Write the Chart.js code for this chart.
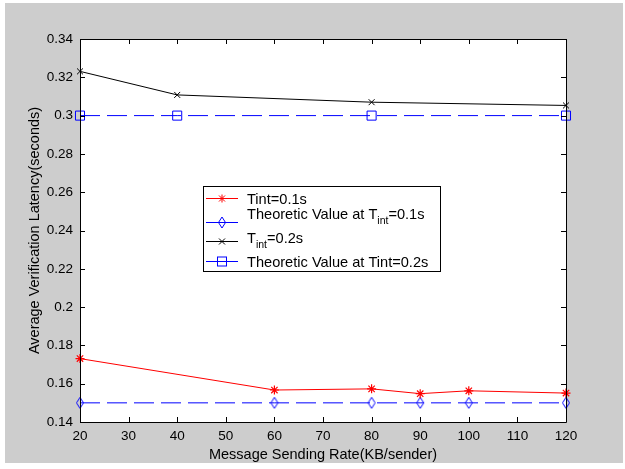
<!DOCTYPE html>
<html lang="en">
<head>
<meta charset="UTF-8">
<title>Average Verification Latency</title>
<script src="https://cdn.jsdelivr.net/npm/chart.js"></script>
<style>
  body { margin: 0; background: #fff; }
  #wrap { width: 625px; height: 469px; }
</style>
</head>
<body>
<div id="wrap"><canvas id="chart" width="625" height="469"></canvas></div>
<script>
// Data
const ratesTint01 = [20, 60, 80, 90, 100, 120];
const latencyTint01 = [0.1731, 0.1567, 0.1573, 0.1548, 0.1563, 0.1551];
const theoryTint01 = [0.15, 0.15, 0.15, 0.15, 0.15, 0.15];

const ratesTint02 = [20, 40, 80, 120];
const latencyTint02 = [0.3231, 0.3108, 0.3070, 0.3053];
const theoryTint02 = [0.3, 0.3, 0.3, 0.3];

const xRange = [20, 120];
const yRange = [0.14, 0.34];

const FONT = '"Liberation Sans", Arial, Helvetica, sans-serif';
const BLUE = '#0000ff';
const RED = '#ff0000';

function toPoints(xs, ys) {
  return xs.map((x, i) => ({ x: x, y: ys[i] }));
}

// tall matlab-style diamond
function diamondCanvas() {
  const c = document.createElement('canvas');
  c.width = 10; c.height = 13;
  const g = c.getContext('2d');
  g.strokeStyle = BLUE;
  g.lineWidth = 1;
  g.beginPath();
  g.moveTo(5, 1); g.lineTo(8.5, 6.5); g.lineTo(5, 12); g.lineTo(1.5, 6.5); g.closePath();
  g.stroke();
  return c;
}
const diamond = diamondCanvas();

// figure background, white axes, box, inward ticks
const matlabAxes = {
  id: 'matlabAxes',
  beforeDraw(chart) {
    const { ctx, chartArea: a } = chart;
    ctx.save();
    ctx.fillStyle = '#fff';
    ctx.fillRect(0, 0, chart.width, chart.height);
    ctx.fillStyle = '#cdcdcd';
    ctx.fillRect(5, 3, 618, 460);
    ctx.fillStyle = '#fff';
    ctx.fillRect(a.left, a.top, a.right - a.left, a.bottom - a.top);
    ctx.restore();
  },
  afterDatasetsDraw(chart) {
    const { ctx, chartArea: a, scales } = chart;
    ctx.save();
    ctx.strokeStyle = '#000';
    ctx.lineWidth = 1;
    ctx.beginPath();
    ctx.rect(Math.round(a.left) + 0.5, Math.round(a.top) + 0.5,
      Math.round(a.right - a.left), Math.round(a.bottom - a.top));
    scales.x.ticks.forEach(t => {
      const px = Math.round(scales.x.getPixelForValue(t.value)) + 0.5;
      ctx.moveTo(px, a.bottom); ctx.lineTo(px, a.bottom - 5);
      ctx.moveTo(px, a.top); ctx.lineTo(px, a.top + 5);
    });
    scales.y.ticks.forEach(t => {
      const py = Math.round(scales.y.getPixelForValue(t.value)) + 0.5;
      ctx.moveTo(a.left, py); ctx.lineTo(a.left + 5, py);
      ctx.moveTo(a.right, py); ctx.lineTo(a.right - 5, py);
    });
    ctx.stroke();
    ctx.restore();
  }
};

// legend with subscripts, drawn like the matlab one
const matlabLegend = {
  id: 'matlabLegend',
  afterDraw(chart) {
    const ctx = chart.ctx;
    const bx = 203.5, by = 186.5, bw = 237, bh = 85;
    const lx0 = 206, lx1 = 238, mx = 222, tx = 247;
    ctx.save();
    ctx.fillStyle = '#fff';
    ctx.fillRect(bx, by, bw, bh);
    ctx.strokeStyle = '#000';
    ctx.lineWidth = 1;
    ctx.strokeRect(bx, by, bw, bh);

    function sample(y, color) {
      ctx.strokeStyle = color;
      ctx.beginPath();
      ctx.moveTo(lx0, y); ctx.lineTo(lx1, y);
      ctx.stroke();
    }
    // row 1: red star
    let y = 198.5;
    sample(y, RED);
    ctx.beginPath();
    ctx.moveTo(mx - 4, y); ctx.lineTo(mx + 4, y);
    ctx.moveTo(mx, y - 4); ctx.lineTo(mx, y + 4);
    ctx.moveTo(mx - 3, y - 3); ctx.lineTo(mx + 3, y + 3);
    ctx.moveTo(mx - 3, y + 3); ctx.lineTo(mx + 3, y - 3);
    ctx.stroke();
    // row 2: blue diamond
    y = 222.5;
    sample(y, BLUE);
    ctx.drawImage(diamond, mx - 5, y - 6.5);
    // row 3: black x
    y = 241.5;
    sample(y, '#000');
    ctx.beginPath();
    ctx.moveTo(mx - 3, y - 3); ctx.lineTo(mx + 3, y + 3);
    ctx.moveTo(mx - 3, y + 3); ctx.lineTo(mx + 3, y - 3);
    ctx.stroke();
    // row 4: blue square
    y = 261.5;
    sample(y, BLUE);
    ctx.strokeRect(mx - 4.5, y - 4.5, 9, 9);

    ctx.fillStyle = '#000';
    ctx.textBaseline = 'alphabetic';
    const big = '14.6px ' + FONT, small = '10.5px ' + FONT;
    function runs(x, base, parts) {
      parts.forEach(p => {
        ctx.font = p.sub ? small : big;
        ctx.fillText(p.t, x, p.sub ? base + 5.5 : base);
        x += ctx.measureText(p.t).width;
      });
    }
    runs(tx, 203.5, [{ t: 'Tint=0.1s' }]);
    runs(tx, 218.5, [{ t: 'Theoretic Value at T' }, { t: 'int', sub: true }, { t: '=0.1s' }]);
    runs(tx, 242.5, [{ t: 'T' }, { t: 'int', sub: true }, { t: '=0.2s' }]);
    runs(tx, 267, [{ t: 'Theoretic Value at Tint=0.2s' }]);
    ctx.restore();
  }
};

new Chart(document.getElementById('chart'), {
  type: 'line',
  data: {
    datasets: [
      {
        label: 'Tint=0.1s',
        data: toPoints(ratesTint01, latencyTint01),
        borderColor: RED, borderWidth: 1,
        pointStyle: 'star', pointRadius: 4.5, pointBorderColor: RED, pointBorderWidth: 1.2,
        pointBackgroundColor: 'transparent'
      },
      {
        label: 'Theoretic Value at Tint=0.1s',
        data: toPoints(ratesTint01, theoryTint01),
        borderColor: BLUE, borderWidth: 1, borderDash: [20, 7],
        pointStyle: diamond, pointRadius: 5
      },
      {
        label: 'Tint=0.2s',
        data: toPoints(ratesTint02, latencyTint02),
        borderColor: '#000', borderWidth: 1,
        pointStyle: 'crossRot', pointRadius: 4.2, pointBorderColor: '#000', pointBorderWidth: 1
      },
      {
        label: 'Theoretic Value at Tint=0.2s',
        data: toPoints(ratesTint02, theoryTint02),
        borderColor: BLUE, borderWidth: 1, borderDash: [20, 7],
        pointStyle: 'rect', pointRadius: 6.4, pointBorderColor: BLUE, pointBorderWidth: 1,
        pointBackgroundColor: 'transparent'
      }
    ].map(d => Object.assign({ tension: 0, fill: false, clip: false }, d))
  },
  options: {
    responsive: false,
    devicePixelRatio: 1,
    animation: false,
    events: [],
    layout: { padding: { left: 0, top: 39, right: 59, bottom: 0 } },
    plugins: { legend: { display: false }, tooltip: { enabled: false } },
    scales: {
      x: {
        type: 'linear', min: xRange[0], max: xRange[1],
        grid: { display: false, drawTicks: false },
        border: { display: false },
        ticks: { stepSize: 10, padding: 6, color: '#000', font: { family: FONT, size: 13.5 }, maxRotation: 0 },
        title: {
          display: true, text: 'Message Sending Rate(KB/sender)', color: '#000',
          font: { family: FONT, size: 14.5 }, padding: { top: 0, bottom: 5.3 }
        },
        afterFit(s) { s.height = 47; }
      },
      y: {
        type: 'linear', min: yRange[0], max: yRange[1],
        grid: { display: false, drawTicks: false },
        border: { display: false },
        ticks: {
          stepSize: 0.02, padding: 7, color: '#000', font: { family: FONT, size: 13.5 },
          callback: v => String(+v.toFixed(2))
        },
        title: {
          display: true, text: 'Average Verification Latency(seconds)', color: '#000',
          font: { family: FONT, size: 14.5 }, padding: { top: 26.3, bottom: 0 }
        },
        afterFit(s) { s.width = 80; }
      }
    }
  },
  plugins: [matlabAxes, matlabLegend]
});
</script>
</body>
</html>
